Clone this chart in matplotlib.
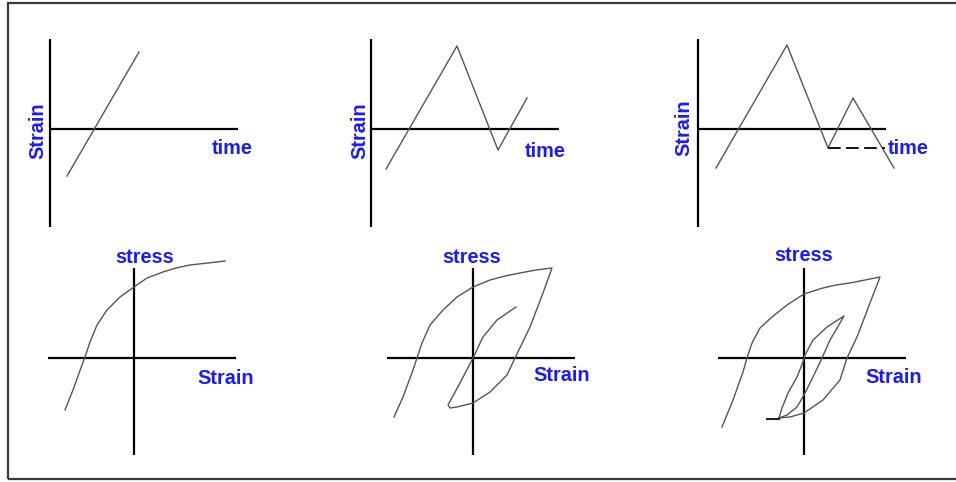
import matplotlib.pyplot as plt

W, H = 956, 482

# strain history (top row): time vs strain
TIME_AXIS = [0, 18.8]
STRAIN_AXIS = [-9.8, 9.0]

h1_time = [1.7, 8.9]
h1_strain = [-4.7, 7.7]

h2_time = [1.5, 8.6, 12.7, 15.6]
h2_strain = [-4.0, 8.3, -2.1, 3.1]

h3_time = [1.8, 8.9, 13.0, 15.5, 19.6]
h3_strain = [-3.9, 8.4, -1.9, 3.1, -3.9]
h3_hold_time = [13.0, 18.7]
h3_hold_strain = [-1.9, -1.9]

# stress-strain response (bottom row)
EPS_AXIS = [-8.6, 10.2]
SIG_AXIS = [-9.7, 9.0]

r1_strain = [-6.9, -6.1, -5.2, -4.9, -4.4, -3.7, -2.7, -1.4, 0.0, 1.3, 2.9, 4.2, 5.6, 7.4, 9.1]
r1_stress = [-5.2, -3.2, -0.7, 0.1, 1.6, 3.3, 4.8, 6.1, 7.1, 8.0, 8.6, 9.0, 9.3, 9.5, 9.7]

r2_strain = [-7.9, -7.0, -6.0, -5.6, -5.1, -4.3, -3.0, -1.6, 0.0, 1.7, 3.2, 4.7, 6.3, 7.9,
             7.0, 5.7, 4.2, 3.4, 1.7, 0.0, -1.6, -2.3, -2.5,
             -1.3, 0.0, 1.0, 2.4, 4.3]
r2_stress = [-5.9, -3.9, -1.2, 0.0, 1.5, 3.3, 4.8, 6.1, 7.1, 7.8, 8.2, 8.5, 8.8, 9.0,
             6.5, 3.1, 0.0, -1.7, -3.4, -4.5, -4.9, -5.0, -4.7,
             -2.5, 0.0, 2.1, 3.8, 5.1]

# outer loop down to the last reversal
r3_strain = [-8.2, -7.1, -6.1, -5.7, -5.2, -4.4, -3.2, -1.7, 0.0, 1.9, 3.2, 4.6, 6.1, 7.6,
             6.6, 5.3, 4.3, 3.6, 1.9, 0.0, -1.4, -2.5]
r3_stress = [-6.9, -4.2, -1.4, 0.0, 1.5, 3.0, 4.1, 5.3, 6.4, 7.0, 7.3, 7.5, 7.8, 8.1,
             5.5, 2.1, 0.0, -2.2, -4.2, -5.5, -5.9, -6.0]
# inner loop
r3_inner_strain = [-2.5, -2.2, -1.6, -0.7, -0.1, 0.1, 0.9, 2.3, 4.0,
                   3.6, 2.6, 1.8, 0.9, 0.0, -0.7, -1.7, -2.5]
r3_inner_stress = [-6.0, -5.0, -3.5, -1.9, -0.4, 0.3, 1.8, 3.1, 4.2,
                   3.5, 1.8, 0.0, -1.9, -3.7, -4.9, -5.7, -6.0]
r3_tail_strain = [-2.5, -3.7]
r3_tail_stress = [-6.1, -6.1]

BLUE = '#1a1aff'
CURVE = '#555555'
plt.rcParams['font.family'] = ['Liberation Sans', 'DejaVu Sans']

fig = plt.figure(figsize=(W / 100, H / 100), dpi=100)


def panel(ox, oy, xlim, ylim):
    # 10 px per data unit, origin of the cross at pixel (ox, oy)
    left = (ox + 10 * xlim[0]) / W
    bottom = (H - oy + 10 * ylim[0]) / H
    ax = fig.add_axes([left, bottom, 10 * (xlim[1] - xlim[0]) / W,
                       10 * (ylim[1] - ylim[0]) / H])
    ax.set_xlim(xlim)
    ax.set_ylim(ylim)
    ax.axis('off')
    ax.patch.set_alpha(0)
    return ax


def cross(ax, xr, yr):
    ax.plot(xr, [0, 0], color='black', lw=1.6, solid_capstyle='butt')
    ax.plot([0, 0], yr, color='black', lw=1.6, solid_capstyle='butt')


txt = dict(color=BLUE, fontsize=14.3, fontweight='bold')
line = dict(color=CURVE, lw=1.0, clip_on=False, solid_joinstyle='round')

# top row
tops = [(50, h1_time, h1_strain, (-1.2, -0.2), (16.2, -2.5)),
        (371, h2_time, h2_strain, (-1.1, -0.2), (15.4, -2.8)),
        (698, h3_time, h3_strain, (-1.4, 0.1), (19.0, -2.5))]
for ox, t, s, lab_y, lab_x in tops:
    ax = panel(ox, 129, (-4, 22), (-11, 11))
    cross(ax, TIME_AXIS, STRAIN_AXIS)
    ax.plot(t, s, **line)
    ax.text(*lab_y, 'Strain', rotation=90, ha='center', va='center', **txt)
    ax.text(*lab_x, 'time', ha='left', va='baseline', **txt)
    if ox == 698:
        ax.plot(h3_hold_time, h3_hold_strain, color='black', lw=1.3,
                linestyle=(0, (7, 3)))

# bottom row
bottoms = [(134, [(r1_strain, r1_stress)], (1.05, 9.5), (6.3, -2.6)),
           (473, [(r2_strain, r2_stress)], (-0.1, 9.5), (6.0, -2.3)),
           (804, [(r3_strain, r3_stress), (r3_inner_strain, r3_inner_stress)],
            (0.0, 9.7), (6.1, -2.5))]
for ox, curves, lab_s, lab_e in bottoms:
    ax = panel(ox, 358, (-10, 12), (-11, 11))
    cross(ax, EPS_AXIS, SIG_AXIS)
    for e, s in curves:
        ax.plot(e, s, **line)
    ax.text(*lab_s, 'stress', ha='center', va='baseline', **txt)
    ax.text(*lab_e, 'Strain', ha='left', va='baseline', **txt)
    if ox == 804:
        ax.plot(r3_tail_strain, r3_tail_stress, color='#222222', lw=1.5)

# outer frame
frame = plt.Rectangle((8 / W, 3 / H), 960 / W, 476 / H, transform=fig.transFigure,
                      fill=False, edgecolor='#3a3a3a', lw=1.6)
fig.patches.append(frame)

fig.savefig('out.png', dpi=100)
